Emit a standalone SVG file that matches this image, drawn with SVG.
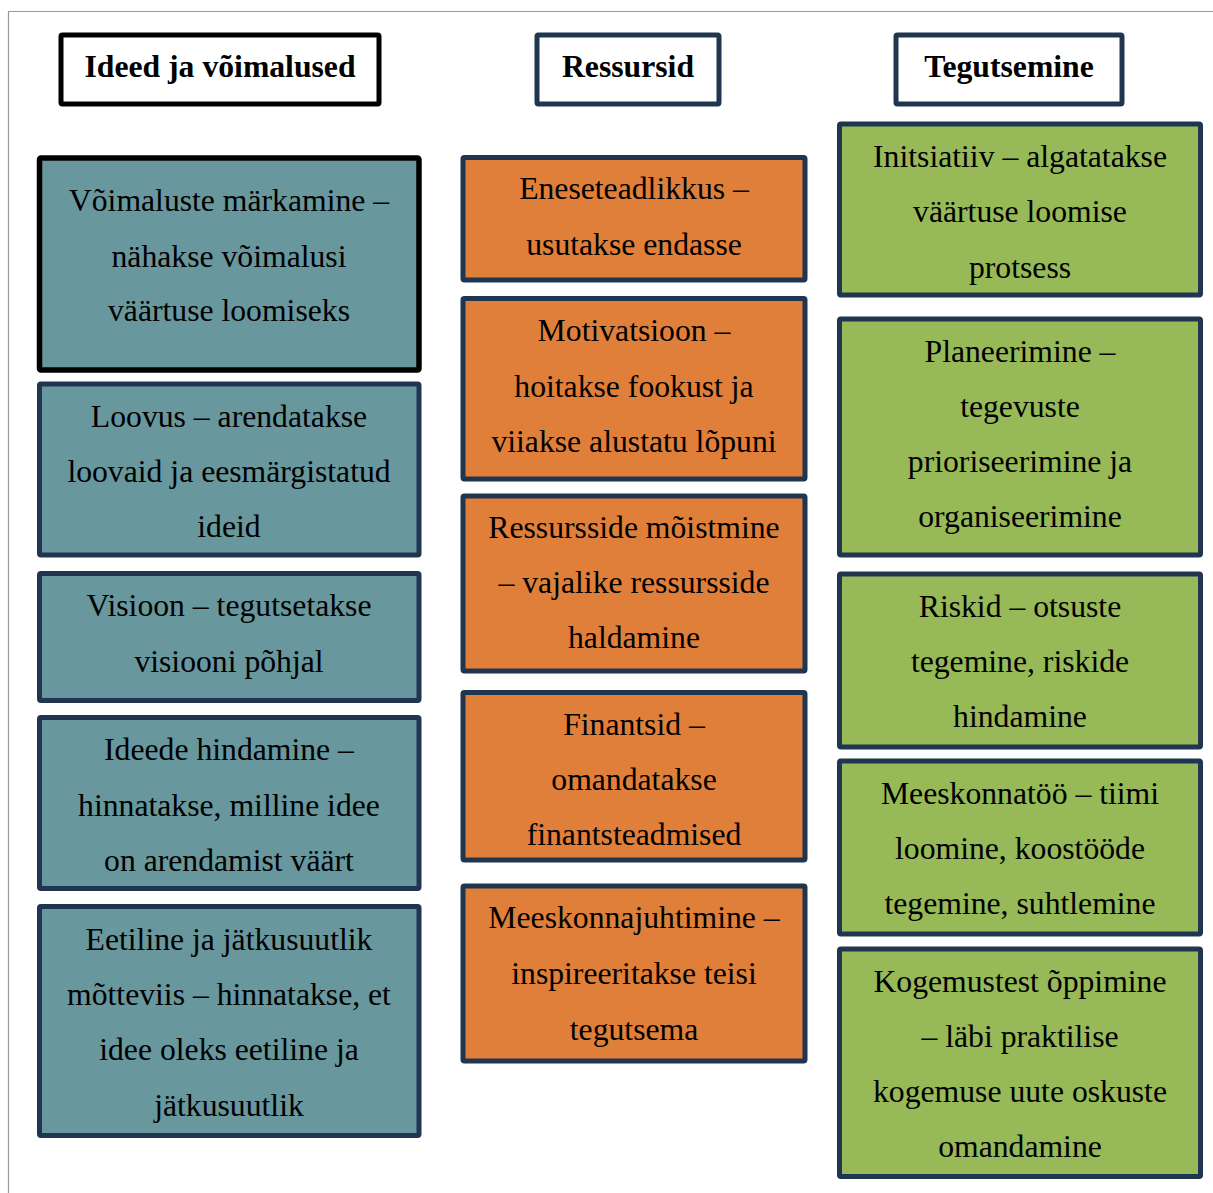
<svg xmlns="http://www.w3.org/2000/svg" width="1213" height="1193" viewBox="0 0 1213 1193">
<style>
.frame{stroke:#999999;stroke-width:1.2;fill:none}
.hdr{fill:#ffffff;stroke:#1f3550;stroke-width:5}
.blk{stroke:#000000}
.teal{fill:#68979e;stroke:#1f3550;stroke-width:5}
.org{fill:#e07f39;stroke:#1f3550;stroke-width:5}
.grn{fill:#97b957;stroke:#1f3550;stroke-width:5}
text{font-family:"Liberation Serif","Times New Roman",serif;font-size:31.7px;fill:#000;text-anchor:middle}
.h{font-weight:bold}
</style>
<path class="frame" d="M8.5 1193 V11.5 H1213"/>
<g id="header-ideed"><rect class="hdr blk" x="61" y="35" width="318" height="69" rx="1.5"/><text class="h" x="220" y="77">Ideed ja võimalused</text></g>
<g id="header-ressursid"><rect class="hdr" x="537" y="35" width="182" height="69" rx="1.5"/><text class="h" x="628" y="77">Ressursid</text></g>
<g id="header-tegutsemine"><rect class="hdr" x="896" y="35" width="226" height="69" rx="1.5"/><text class="h" x="1009" y="77">Tegutsemine</text></g>

<g id="l1"><rect class="teal" x="39.5" y="158" width="379.5" height="212" rx="1.5" style="stroke:#000;stroke-width:5.5"/><text x="229" y="211">Võimaluste märkamine –</text><text x="229" y="267">nähakse võimalusi</text><text x="229" y="321">väärtuse loomiseks</text></g>
<g id="l2"><rect class="teal" x="39.5" y="384" width="379.5" height="171" rx="1.5"/><text x="229" y="427">Loovus – arendatakse</text><text x="229" y="482">loovaid ja eesmärgistatud</text><text x="229" y="537">ideid</text></g>
<g id="l3"><rect class="teal" x="39.5" y="573.5" width="379.5" height="127" rx="1.5"/><text x="229" y="616">Visioon – tegutsetakse</text><text x="229" y="672">visiooni põhjal</text></g>
<g id="l4"><rect class="teal" x="39.5" y="717.5" width="379.5" height="171" rx="1.5"/><text x="229" y="760">Ideede hindamine –</text><text x="229" y="816">hinnatakse, milline idee</text><text x="229" y="871">on arendamist väärt</text></g>
<g id="l5"><rect class="teal" x="39.5" y="906.5" width="379.5" height="229" rx="1.5"/><text x="229" y="950">Eetiline ja jätkusuutlik</text><text x="229" y="1005">mõtteviis – hinnatakse, et</text><text x="229" y="1060">idee oleks eetiline ja</text><text x="229" y="1116">jätkusuutlik</text></g>

<g id="m1"><rect class="org" x="463" y="157.5" width="342" height="122.5" rx="1.5"/><text x="634" y="199">Eneseteadlikkus –</text><text x="634" y="255">usutakse endasse</text></g>
<g id="m2"><rect class="org" x="463" y="298.5" width="342" height="180.5" rx="1.5"/><text x="634" y="341">Motivatsioon –</text><text x="634" y="397">hoitakse fookust ja</text><text x="634" y="452">viiakse alustatu lõpuni</text></g>
<g id="m3"><rect class="org" x="463" y="496" width="342" height="175" rx="1.5"/><text x="634" y="538">Ressursside mõistmine</text><text x="634" y="593">– vajalike ressursside</text><text x="634" y="648">haldamine</text></g>
<g id="m4"><rect class="org" x="463" y="692.5" width="342" height="167.5" rx="1.5"/><text x="634" y="735">Finantsid –</text><text x="634" y="790">omandatakse</text><text x="634" y="845">finantsteadmised</text></g>
<g id="m5"><rect class="org" x="463" y="886" width="342" height="175" rx="1.5"/><text x="634" y="928">Meeskonnajuhtimine –</text><text x="634" y="984">inspireeritakse teisi</text><text x="634" y="1040">tegutsema</text></g>

<g id="r1"><rect class="grn" x="839.5" y="124" width="361" height="171" rx="1.5"/><text x="1020" y="167">Initsiatiiv – algatatakse</text><text x="1020" y="222">väärtuse loomise</text><text x="1020" y="278">protsess</text></g>
<g id="r2"><rect class="grn" x="839.5" y="319" width="361" height="236" rx="1.5"/><text x="1020" y="362">Planeerimine –</text><text x="1020" y="417">tegevuste</text><text x="1020" y="472">prioriseerimine ja</text><text x="1020" y="527">organiseerimine</text></g>
<g id="r3"><rect class="grn" x="839.5" y="574" width="361" height="173" rx="1.5"/><text x="1020" y="617">Riskid – otsuste</text><text x="1020" y="672">tegemine, riskide</text><text x="1020" y="727">hindamine</text></g>
<g id="r4"><rect class="grn" x="839.5" y="761" width="361" height="173" rx="1.5"/><text x="1020" y="804">Meeskonnatöö – tiimi</text><text x="1020" y="859">loomine, koostööde</text><text x="1020" y="914">tegemine, suhtlemine</text></g>
<g id="r5"><rect class="grn" x="839.5" y="949" width="361" height="227.5" rx="1.5"/><text x="1020" y="992">Kogemustest õppimine</text><text x="1020" y="1047">– läbi praktilise</text><text x="1020" y="1102">kogemuse uute oskuste</text><text x="1020" y="1157">omandamine</text></g>
<g id="connectors"/>
</svg>
